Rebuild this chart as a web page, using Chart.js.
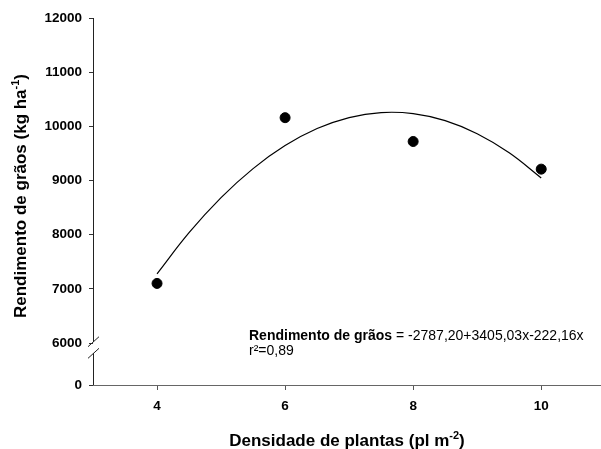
<!DOCTYPE html>
<html><head><meta charset="utf-8">
<script src="https://cdn.jsdelivr.net/npm/chart.js@4"></script>
<style>html,body{margin:0;padding:0;background:#fff;overflow:hidden}#wrap{width:601px;height:449px}</style>
</head><body><div id="wrap"><canvas id="c" width="601" height="449"></canvas></div>
<script>
// Observed data
const densities = [4, 6, 8, 10];
const yields = [7100, 10160, 9720, 9210];
// Fitted curve
const curveX = [4, 4.5, 5, 5.5, 6, 6.5, 7, 7.5, 8, 8.5, 9, 9.5, 10];
const curveY = [7278, 8037, 8684, 9220, 9645, 9959, 10162, 10254, 10235, 10105, 9863, 9511, 9047];
// Axis ticks
const xTicks = [4, 6, 8, 10];
const yTicks = [0, 6000, 7000, 8000, 9000, 10000, 11000, 12000];
const yBreakBase = 5225; // axis value where the "0" tick sits after the break

const FONT = "'Liberation Sans', Arial, Helvetica, sans-serif";

function axisVal(v){ return v === 0 ? yBreakBase : v; }

function drawRich(ctx, parts, x, y, align){
  let w = 0;
  parts.forEach(p => { ctx.font = p.font; w += ctx.measureText(p.t).width; });
  let cx = align === 'center' ? x - w/2 : x;
  parts.forEach(p => {
    ctx.font = p.font;
    ctx.fillText(p.t, cx, y + (p.dy || 0));
    cx += ctx.measureText(p.t).width;
  });
}

const decor = {
  id: 'decor',
  afterDraw(chart){
    const ctx = chart.ctx, ca = chart.chartArea, ys = chart.scales.y;
    const ax = ca.left + 0.5;
    const y6 = ys.getPixelForValue(6000);
    ctx.save();
    // extend x axis line to the canvas edge
    ctx.strokeStyle = '#666'; ctx.lineWidth = 1;
    ctx.beginPath();
    ctx.moveTo(ca.right - 1, Math.round(ca.bottom) + 0.5); ctx.lineTo(chart.width, Math.round(ca.bottom) + 0.5);
    ctx.stroke();
    ctx.strokeStyle = '#222';
    ctx.beginPath();
    ctx.moveTo(ax, ca.top); ctx.lineTo(ax, y6 - 1);
    ctx.moveTo(ax, y6 + 10); ctx.lineTo(ax, ca.bottom);
    ctx.stroke();
    // break marks
    ctx.beginPath();
    ctx.moveTo(ax - 5.5, y6 + 3.7); ctx.lineTo(ax + 5.5, y6 - 6.3);
    ctx.moveTo(ax - 5.5, y6 + 15.3); ctx.lineTo(ax + 5.5, y6 + 5.3);
    ctx.stroke();

    ctx.fillStyle = '#000';
    ctx.textBaseline = 'alphabetic';
    const tb = 'bold 17px ' + FONT, sb = 'bold 11px ' + FONT;
    // x title
    drawRich(ctx, [
      {t:'Densidade de plantas (pl m', font:tb},
      {t:'-2', font:sb, dy:-7},
      {t:')', font:tb}
    ], 347, 446, 'center');
    // y title
    ctx.save();
    ctx.translate(26, 196);
    ctx.rotate(-Math.PI/2);
    drawRich(ctx, [
      {t:'Rendimento de grãos (kg ha', font:tb},
      {t:'-1', font:sb, dy:-7},
      {t:')', font:tb}
    ], 0, 0, 'center');
    ctx.restore();
    // equation annotation
    drawRich(ctx, [
      {t:'Rendimento de grãos', font:'bold 14px ' + FONT},
      {t:' = -2787,20+3405,03x-222,16x', font:'14px ' + FONT}
    ], 249, 340, 'left');
    drawRich(ctx, [{t:'r²=0,89', font:'14px ' + FONT}], 249, 355, 'left');
    ctx.restore();
  }
};

new Chart(document.getElementById('c'), {
  type: 'scatter',
  data: {
    datasets: [
      {
        type: 'line',
        data: curveX.map((x, i) => ({x, y: curveY[i]})),
        borderColor: '#000', borderWidth: 1.2,
        pointRadius: 0, fill: false, tension: 0.4
      },
      {
        data: densities.map((x, i) => ({x, y: yields[i]})),
        backgroundColor: '#000', borderColor: '#000',
        pointRadius: 5, pointHoverRadius: 5
      }
    ]
  },
  options: {
    responsive: false, animation: false, devicePixelRatio: 1,
    layout: {padding: {top: 18, left: 0, right: 0, bottom: 0}},
    plugins: {legend: {display: false}, tooltip: {enabled: false}},
    events: [],
    scales: {
      x: {
        type: 'linear', min: 3, max: 10.84,
        afterBuildTicks: s => { s.ticks = xTicks.map(v => ({value: v})); },
        afterFit: s => { s.height = 64; },
        ticks: {color: '#000', font: {family: FONT, size: 13.5, weight: 'bold'}, padding: 8, callback: v => v},
        grid: {drawOnChartArea: false, tickLength: 5, color: '#555'},
        border: {color: '#666', width: 1}
      },
      y: {
        type: 'linear', min: yBreakBase, max: 12000,
        afterBuildTicks: s => { s.ticks = yTicks.map(v => ({value: axisVal(v)})); },
        afterFit: s => { s.width = 93; },
        ticks: {color: '#000', font: {family: FONT, size: 13.5, weight: 'bold'}, padding: 7,
          callback: v => v === yBreakBase ? '0' : String(v)},
        grid: {drawOnChartArea: false, tickLength: 4, color: '#333'},
        border: {display: false}
      }
    }
  },
  plugins: [decor]
});
</script>
</body></html>
